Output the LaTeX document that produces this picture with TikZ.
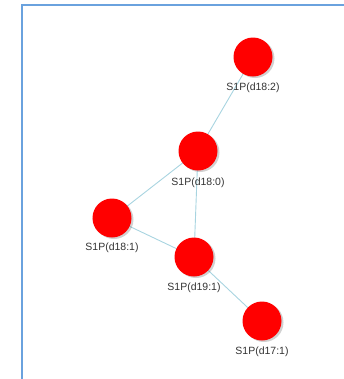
\documentclass[tikz,border=0pt]{standalone}
\usepackage{fontspec}
\setmainfont{Liberation Sans}
\usetikzlibrary{shadows}
\definecolor{framecol}{HTML}{6AA2DE}
\definecolor{edgecol}{HTML}{A8D4E0}
\definecolor{txtcol}{HTML}{333333}
\tikzset{
  vertex/.style={circle, fill=red, minimum size=39bp, inner sep=0pt,
    drop shadow={shadow xshift=2bp, shadow yshift=-1.5bp, opacity=0.3, fill=black!60}},
  vlabel/.style={font=\fontsize{10.5bp}{12bp}\selectfont, text=txtcol, inner sep=0pt},
  link/.style={draw=edgecol, line width=0.9bp},
  frameline/.style={draw=framecol, line width=2bp}
}
\begin{document}
\begin{tikzpicture}[x=1bp, y=-1bp]
  \useasboundingbox (0,0) rectangle (344,379);
  % panel border (top and left sides)
  \coordinate (fbl) at (22,379);
  \coordinate (ftl) at (22,5);
  \coordinate (ftr) at (344,5);
  \draw[frameline] (fbl) -- (ftl) -- (ftr);
  % node positions
  \coordinate (pA) at (253,57);
  \coordinate (pB) at (198,151);
  \coordinate (pC) at (112,218);
  \coordinate (pD) at (194,257);
  \coordinate (pE) at (262,321);
  % connectors beneath the nodes
  \draw[link] (pA) -- (pB);
  \draw[link] (pB) -- (pC);
  \draw[link] (pB) -- (pD);
  \draw[link] (pC) -- (pD);
  \draw[link] (pD) -- (pE);
  % nodes
  \node[vertex] (a) at (pA) {};
  \node[vertex] (b) at (pB) {};
  \node[vertex] (c) at (pC) {};
  \node[vertex] (d) at (pD) {};
  \node[vertex] (e) at (pE) {};
  % labels
  \node[vlabel] (la) at (253,87.5) {S1P(d18:2)};
  \node[vlabel] (lb) at (198,182.5) {S1P(d18:0)};
  \node[vlabel] (lc) at (112,247.5) {S1P(d18:1)};
  \node[vlabel] (ld) at (194,287.5) {S1P(d19:1)};
  \node[vlabel] (le) at (262,351.5) {S1P(d17:1)};
\end{tikzpicture}
\end{document}
